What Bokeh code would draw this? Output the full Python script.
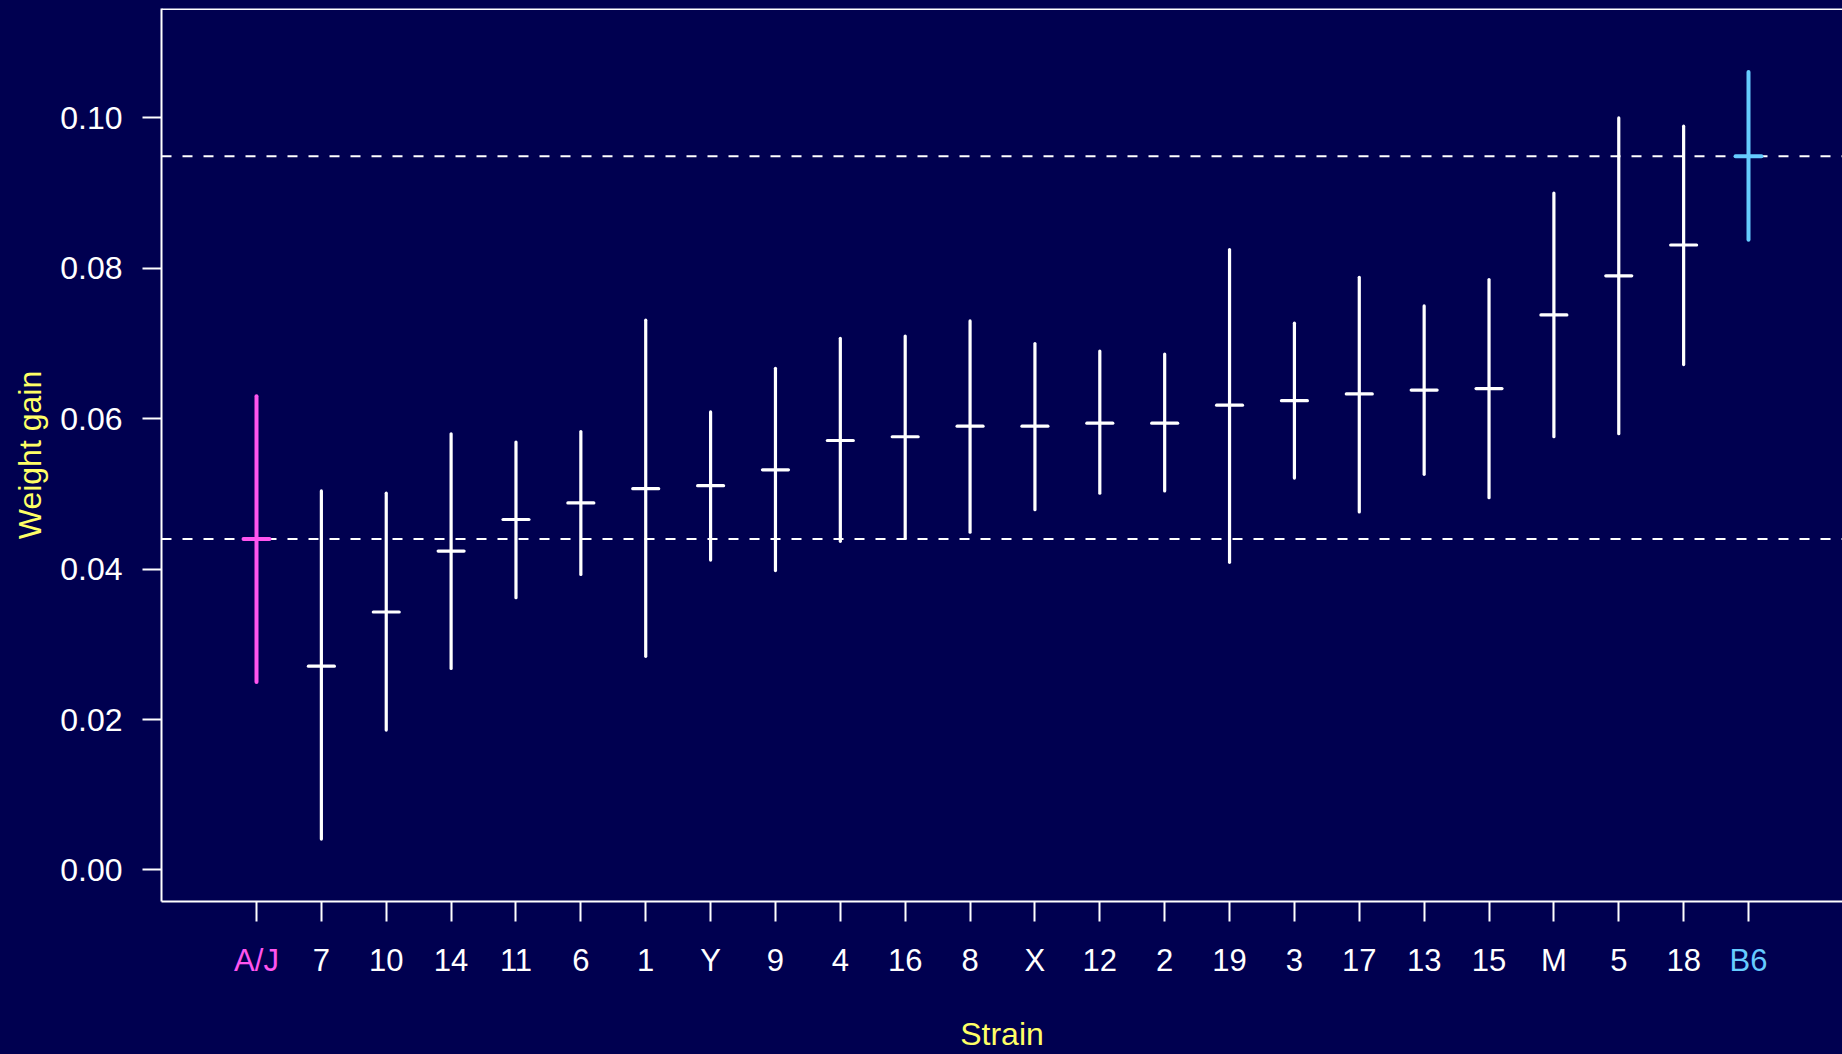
from bokeh.plotting import figure
from bokeh.models import (Range1d, FixedTicker, Span, ColumnDataSource, LinearAxis,
                          PrintfTickFormatter, GlobalInlineStyleSheet)
from bokeh.embed import file_html
from bokeh.resources import INLINE

# ---- data ----
strains = ["A/J", "7", "10", "14", "11", "6", "1", "Y", "9", "4", "16", "8",
           "X", "12", "2", "19", "3", "17", "13", "15", "M", "5", "18", "B6"]
means = [0.0440, 0.0271, 0.0343, 0.0424, 0.0466, 0.0488, 0.0507, 0.0511,
         0.0532, 0.0571, 0.0576, 0.0590, 0.0590, 0.0594, 0.0594, 0.0618,
         0.0624, 0.0633, 0.0638, 0.0640, 0.0738, 0.0790, 0.0831, 0.0949]
upper = [0.0630, 0.0504, 0.0501, 0.0580, 0.0569, 0.0583, 0.0731, 0.0609,
         0.0667, 0.0707, 0.0710, 0.0730, 0.0700, 0.0690, 0.0686, 0.0825,
         0.0727, 0.0788, 0.0750, 0.0785, 0.0900, 0.1000, 0.0989, 0.1061]
lower = [0.0250, 0.0041, 0.0186, 0.0268, 0.0362, 0.0393, 0.0284, 0.0412,
         0.0398, 0.0437, 0.0441, 0.0449, 0.0479, 0.0501, 0.0504, 0.0409,
         0.0521, 0.0476, 0.0526, 0.0495, 0.0576, 0.0580, 0.0672, 0.0838]
y_ticks = [0.00, 0.02, 0.04, 0.06, 0.08, 0.10]

# ---- style ----
BG = "#000050"
WHITE = "#FFFFFF"
PINK = "#FF55EE"
BLUE = "#66CCFF"
YELLOW = "#FFFF66"
FONT = "Liberation Sans"
TICK_FS = "31px"
LABEL_H = 38  # measured height of a 31px tick label box

colors = [WHITE] * len(strains)
colors[0] = PINK
colors[-1] = BLUE
widths = [3.2] * len(strains)
widths[0] = 4
widths[-1] = 4
idx = list(range(1, len(strains) + 1))

src = ColumnDataSource(dict(
    x=idx, xl=[i - 0.2 for i in idx], xr=[i + 0.2 for i in idx],
    mean=means, lo=lower, hi=upper, color=colors, w=widths))

X0, X1 = -0.4645, 25.449
Y0, Y1 = -0.004197, 0.114544

p = figure(width=1834, height=1046,
           x_range=Range1d(X0, X1), y_range=Range1d(Y0, Y1),
           output_backend="svg", toolbar_location=None,
           min_border_left=153, min_border_right=0,
           min_border_top=0, min_border_bottom=152,
           background_fill_color=BG, border_fill_color=BG,
           outline_line_color=None)
p.stylesheets = [GlobalInlineStyleSheet(
    css=f"html, body {{ background: {BG}; }} body {{ margin: 8px 0 0 8px; overflow: hidden; }}")]
p.grid.visible = False

# reference lines at A/J and B6 means
for m in (means[0], means[-1]):
    p.add_layout(Span(location=m, dimension="width", line_color=WHITE,
                      line_width=2, line_dash="10 11", level="underlay"))

# top border line
p.add_layout(Span(location=Y1, dimension="width", line_color=WHITE,
                  line_width=3, level="overlay"))

p.segment(x0="x", y0="lo", x1="x", y1="hi", source=src, line_color="color",
          line_width="w", line_cap="round")
p.segment(x0="xl", y0="mean", x1="xr", y1="mean", source=src,
          line_color="color", line_width="w", line_cap="round")

# x axis (ticks + white labels)
xa = p.xaxis[0]
xa.ticker = FixedTicker(ticks=idx)
xa.major_label_overrides = {i: (s if c == WHITE else "")
                            for i, s, c in zip(idx, strains, colors)}
# y axis
ya = p.yaxis[0]
ya.ticker = FixedTicker(ticks=y_ticks)
ya.formatter = PrintfTickFormatter(format="%.2f")
ya.axis_label = "Weight gain"

for ax in (xa, ya):
    ax.axis_line_color = WHITE
    ax.axis_line_width = 2
    ax.major_tick_line_color = WHITE
    ax.major_tick_line_width = 2
    ax.major_tick_in = 0
    ax.minor_tick_line_color = None
    ax.major_label_text_color = WHITE
    ax.major_label_text_font = FONT
    ax.major_label_text_font_size = TICK_FS
    ax.axis_label_text_color = YELLOW
    ax.axis_label_text_font = FONT
    ax.axis_label_text_font_size = "32px"
    ax.axis_label_text_font_style = "normal"

ya.major_label_text_font_size = "32px"
xa.major_tick_out = 20
xa.major_label_standoff = 21
ya.major_tick_out = 19
ya.major_label_standoff = 20
ya.axis_label_standoff = 9

# coloured tick labels for the parental strains: extra label-only axes
# pulled back onto the same row as the white labels
extra = []
for i, s, c in zip(idx, strains, colors):
    if c != WHITE:
        ax = LinearAxis(ticker=FixedTicker(ticks=[i]),
                        major_label_overrides={i: s},
                        axis_line_color=None, major_tick_line_color=None,
                        minor_tick_line_color=None,
                        major_tick_out=0, major_tick_in=0,
                        major_label_standoff=-LABEL_H,
                        major_label_text_color=c,
                        major_label_text_font=FONT,
                        major_label_text_font_size=TICK_FS)
        p.add_layout(ax, "below")
        extra.append(ax)

last = extra[-1]
last.axis_label = "Strain"
last.axis_label_text_color = YELLOW
last.axis_label_text_font = FONT
last.axis_label_text_font_size = "32px"
last.axis_label_text_font_style = "normal"
last.axis_label_standoff = 35

open("out.html", "w").write(file_html(p, INLINE))
